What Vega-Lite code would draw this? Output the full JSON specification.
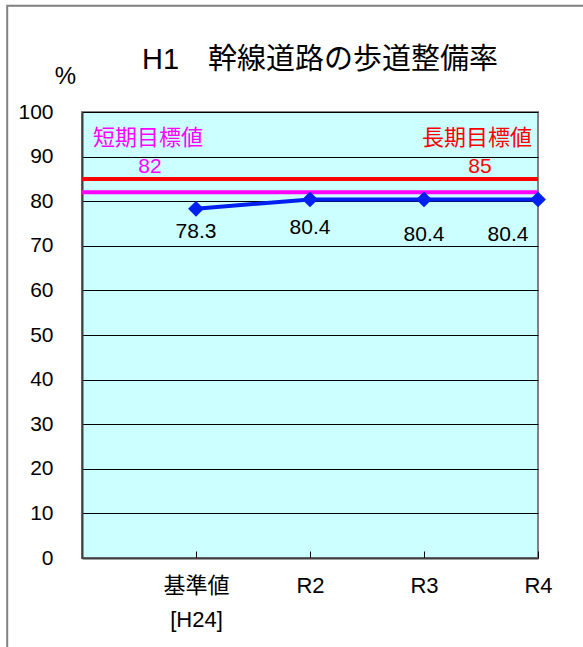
{
  "$schema": "https://vega.github.io/schema/vega-lite/v6.json",
  "width": 456,
  "height": 446,
  "autosize": "none",
  "padding": {"left": 82, "top": 112, "right": 45, "bottom": 89},
  "background": "white",
  "config": {
    "font": "Liberation Sans, Noto Sans CJK JP",
    "view": {"fill": "#ccffff", "stroke": "#808080", "strokeWidth": 2},
    "axis": {"labelColor": "black", "titleColor": "black", "labelFont": "Liberation Sans, Noto Sans CJK JP"}
  },
  "title": {
    "text": "H1　幹線道路の歩道整備率",
    "fontSize": 29,
    "fontWeight": "normal",
    "color": "black",
    "anchor": "start",
    "frame": "group",
    "baseline": "bottom",
    "offset": 0,
    "dx": 60,
    "dy": 99
  },
  "data": {
    "values": [
      {"n": 1, "period": "基準値", "rate": 78.3},
      {"n": 2, "period": "R2", "rate": 80.4},
      {"n": 3, "period": "R3", "rate": 80.4},
      {"n": 4, "period": "R4", "rate": 80.4}
    ]
  },
  "layer": [
    {
      "data": {"values": [{"frame": 1}]},
      "mark": {"type": "rect", "fillOpacity": 0, "fill": "white", "stroke": "#808080", "strokeWidth": 2, "clip": false},
      "encoding": {
        "x": {
          "datum": -0.656,
          "type": "quantitative",
          "scale": {"domain": [0, 4]},
          "axis": {
            "title": null,
            "values": [1, 2, 3, 4],
            "labelExpr": "datum.value == 1 ? ['基準値', '[H24]'] : 'R' + datum.value",
            "grid": false,
            "domainColor": "#404040",
            "domainWidth": 2,
            "tickColor": "black",
            "tickSize": -7,
            "labelPadding": 24,
            "labelFontSize": 22,
            "labelLineHeight": 34,
            "labelBaseline": "top",
            "labelFlush": false
          }
        },
        "x2": {"datum": 4.7},
        "y": {
          "datum": 123.8,
          "type": "quantitative",
          "scale": {"domain": [0, 100]},
          "axis": {
            "title": "%",
            "titleAngle": 0,
            "titleX": -17,
            "titleY": -36,
            "titleAlign": "center",
            "titleBaseline": "middle",
            "titleFontSize": 24,
            "titleFontWeight": "normal",
            "values": [0, 10, 20, 30, 40, 50, 60, 70, 80, 90, 100],
            "grid": true,
            "gridColor": "black",
            "gridWidth": 1,
            "gridOpacity": 1,
            "ticks": false,
            "domainColor": "#404040",
            "domainWidth": 2,
            "labelPadding": 29,
            "labelFontSize": 21,
            "labelBaseline": "middle"
          }
        },
        "y2": {"datum": -30}
      }
    },
    {
      "data": {"values": [{"goal": "長期目標値", "target": 85}]},
      "mark": {"type": "rule", "color": "#ff0000", "strokeWidth": 4},
      "encoding": {"y": {"field": "target", "type": "quantitative"}}
    },
    {
      "data": {"values": [{"goal": "短期目標値", "target": 82}]},
      "mark": {"type": "rule", "color": "#ff00ff", "strokeWidth": 4},
      "encoding": {"y": {"field": "target", "type": "quantitative"}}
    },
    {
      "mark": {
        "type": "line",
        "color": "#0020f0",
        "strokeWidth": 4,
        "clip": false,
        "point": {"shape": "diamond", "size": 250, "filled": true, "color": "#0020f0", "opacity": 1}
      },
      "encoding": {
        "x": {"field": "n", "type": "quantitative"},
        "y": {"field": "rate", "type": "quantitative"}
      }
    },
    {
      "transform": [{"filter": "datum.n == 1"}],
      "mark": {"type": "text", "fontSize": 21, "dy": 23, "color": "black", "baseline": "middle"},
      "encoding": {
        "x": {"field": "n", "type": "quantitative"},
        "y": {"field": "rate", "type": "quantitative"},
        "text": {"field": "rate", "type": "quantitative", "format": ".1f"}
      }
    },
    {
      "transform": [{"filter": "datum.n == 2"}],
      "mark": {"type": "text", "fontSize": 21, "dy": 29, "color": "black", "baseline": "middle"},
      "encoding": {
        "x": {"field": "n", "type": "quantitative"},
        "y": {"field": "rate", "type": "quantitative"},
        "text": {"field": "rate", "type": "quantitative", "format": ".1f"}
      }
    },
    {
      "transform": [{"filter": "datum.n == 3"}],
      "mark": {"type": "text", "fontSize": 21, "dy": 36, "color": "black", "baseline": "middle"},
      "encoding": {
        "x": {"field": "n", "type": "quantitative"},
        "y": {"field": "rate", "type": "quantitative"},
        "text": {"field": "rate", "type": "quantitative", "format": ".1f"}
      }
    },
    {
      "transform": [{"filter": "datum.n == 4"}],
      "mark": {"type": "text", "fontSize": 21, "dy": 36, "dx": -30, "color": "black", "baseline": "middle"},
      "encoding": {
        "x": {"field": "n", "type": "quantitative"},
        "y": {"field": "rate", "type": "quantitative"},
        "text": {"field": "rate", "type": "quantitative", "format": ".1f"}
      }
    },
    {
      "data": {"values": [{"goal": "短期目標値", "target": 82}]},
      "mark": {"type": "text", "fontSize": 22, "color": "#ff00ff", "align": "left", "baseline": "middle"},
      "encoding": {
        "x": {"datum": 0.0965, "type": "quantitative"},
        "y": {"datum": 94.2, "type": "quantitative"},
        "text": {"field": "goal"}
      }
    },
    {
      "data": {"values": [{"goal": "短期目標値", "target": 82}]},
      "mark": {"type": "text", "fontSize": 21, "color": "#ff00ff", "align": "center", "baseline": "middle"},
      "encoding": {
        "x": {"datum": 0.596, "type": "quantitative"},
        "y": {"datum": 87.7, "type": "quantitative"},
        "text": {"field": "target", "type": "quantitative"}
      }
    },
    {
      "data": {"values": [{"goal": "長期目標値", "target": 85}]},
      "mark": {"type": "text", "fontSize": 22, "color": "#ff0000", "align": "right", "baseline": "middle"},
      "encoding": {
        "x": {"datum": 3.947, "type": "quantitative"},
        "y": {"datum": 94.2, "type": "quantitative"},
        "text": {"field": "goal"}
      }
    },
    {
      "data": {"values": [{"goal": "長期目標値", "target": 85}]},
      "mark": {"type": "text", "fontSize": 21, "color": "#ff0000", "align": "center", "baseline": "middle"},
      "encoding": {
        "x": {"datum": 3.491, "type": "quantitative"},
        "y": {"datum": 87.7, "type": "quantitative"},
        "text": {"field": "target", "type": "quantitative"}
      }
    }
  ]
}
